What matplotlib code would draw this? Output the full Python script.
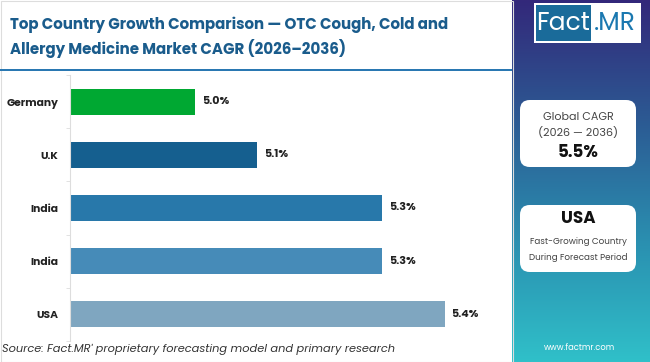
import numpy as np
import matplotlib
matplotlib.use("Agg")
import matplotlib.pyplot as plt
from matplotlib.patches import FancyBboxPatch, Rectangle
from matplotlib.colors import LinearSegmentedColormap

# data
countries = ["Germany", "U.K", "India", "India", "USA"]
cagr = [5.0, 5.1, 5.3, 5.3, 5.4]
bar_colors = ["#00a832", "#155f8f", "#2878aa", "#468bb8", "#7fa6c0"]
global_cagr = "5.5%"
top_country = "USA"

plt.rcParams['font.family'] = ['Poppins', 'Lato', 'DejaVu Sans']

fig = plt.figure(figsize=(6.5, 3.62), dpi=100)
W, H = 650, 362

def fx(px):
    return px / W

def fy(py):
    return 1 - py / H

# light frame round the chart area
fig.add_artist(Rectangle((0.5 / W, 0.5 / H), fx(512), 1 - 1 / H, transform=fig.transFigure,
                         facecolor="none", edgecolor="#dddddd", lw=0.8))

# right gradient panel
grad_ax = fig.add_axes([fx(512), 0, 1 - fx(512), 1])
cmap = LinearSegmentedColormap.from_list("panel", ["#33287a", "#2c5a93", "#2a8fb0", "#30c0c9"])
grad_ax.imshow(np.linspace(0, 1, 256).reshape(-1, 1), aspect="auto", cmap=cmap,
               extent=[0, 1, 0, 1], origin="upper")
grad_ax.set_axis_off()

# title
fig.text(fx(10), fy(25), "Top Country Growth Comparison — OTC Cough, Cold and",
         fontsize=10.85, fontweight="bold", color="#1a5c8c", va="center")
fig.text(fx(10), fy(49), "Allergy Medicine Market CAGR (2026–2036)",
         fontsize=10.85, fontweight="bold", color="#1a5c8c", va="center")
fig.add_artist(Rectangle((0, fy(71)), fx(512), 2.2 / H, transform=fig.transFigure,
                         color="#2a78b2", lw=0))

# bars
ax = fig.add_axes([fx(70), fy(341), fx(507) - fx(70), (341 - 75) / H])
y = np.arange(len(countries))
ax.barh(y, cagr, left=0, height=0.49, color=bar_colors)
ax.set_xlim(4.8, 5.5)
ax.set_ylim(len(countries) - 0.5, -0.5)
for i, v in enumerate(cagr):
    ax.text(v + 0.011, i, f"{v:.1f}%", va="center", ha="left",
            fontsize=8, fontweight="bold", color="#222222")
ax.set_yticks(y)
ax.set_yticklabels(countries, fontsize=7.7, fontweight="bold", color="#222222")
ax.tick_params(axis="y", length=0, pad=8.5)
ax.set_yticks(np.arange(-0.5, len(countries), 1), minor=True)
ax.tick_params(axis="y", which="minor", length=3, color="#dddddd")
ax.set_xticks([])
for s in ["top", "right", "bottom"]:
    ax.spines[s].set_visible(False)
ax.spines["left"].set_color("#dddddd")

# logo
fig.add_artist(Rectangle((fx(534), fy(43)), fx(107), 40 / H, transform=fig.transFigure,
                         facecolor="white", edgecolor="none"))
fig.add_artist(Rectangle((fx(536), fy(41)), fx(55), 36 / H, transform=fig.transFigure,
                         facecolor="#1a6b9a", edgecolor="none"))
fig.text(fx(563), fy(24), "Fact", fontsize=18, color="white", ha="center", va="center")
fig.text(fx(615), fy(24), ".MR", fontsize=18, color="#1a78b0", ha="center", va="center")

# info cards
for top, bottom in [(100, 167), (205, 272)]:
    fig.add_artist(FancyBboxPatch((fx(520), fy(bottom)), fx(116), (bottom - top) / H,
                                  boxstyle="round,pad=0,rounding_size=0.015",
                                  transform=fig.transFigure, facecolor="white",
                                  edgecolor="none", mutation_aspect=W / H))
cx = fx(578)
fig.text(cx, fy(118), "Global CAGR", fontsize=8, color="#444444", ha="center", va="center")
fig.text(cx, fy(133), "(2026 — 2036)", fontsize=8, color="#444444", ha="center", va="center")
fig.text(cx, fy(153), global_cagr, fontsize=12, fontweight="bold", color="#111111",
         ha="center", va="center")
fig.text(cx, fy(219), top_country, fontsize=12, fontweight="bold", color="#111111",
         ha="center", va="center")
fig.text(cx, fy(241), "Fast-Growing Country", fontsize=6.3, color="#444444", ha="center", va="center")
fig.text(cx, fy(258), "During Forecast Period", fontsize=6.3, color="#444444", ha="center", va="center")
fig.text(fx(580), fy(348), "www.factmr.com", fontsize=6, color="white", ha="center", va="center")

# source
fig.text(fx(2), fy(349), "Source: Fact.MR' proprietary forecasting model and primary research",
         fontsize=8.2, style="italic", color="#333333", va="center")

fig.savefig("out.png", dpi=100)
